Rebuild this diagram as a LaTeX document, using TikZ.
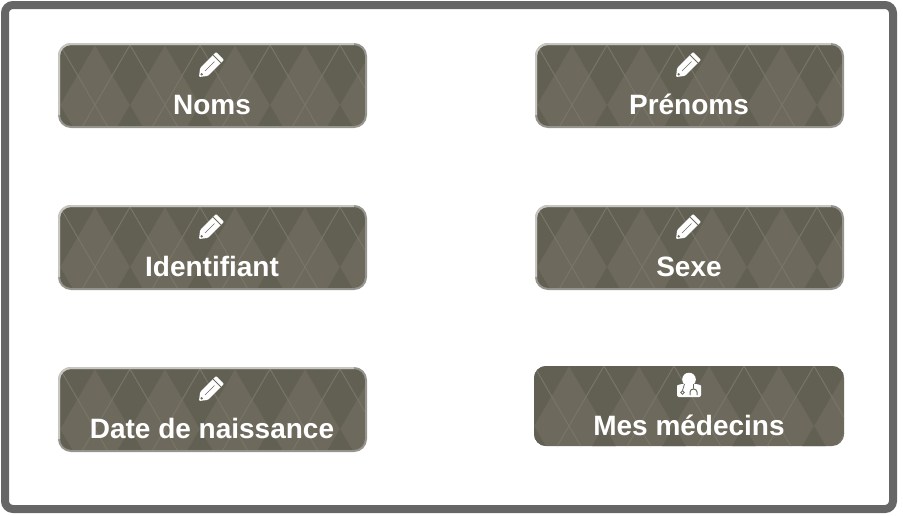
\documentclass[tikz,border=0pt]{standalone}
\usepackage{fontspec}
\setmainfont{Liberation Sans}
\definecolor{argylebase}{HTML}{6D695C}
\colorlet{argyledark}{argylebase!90!black}
\colorlet{argyleline}{argylebase!92!white}
\definecolor{framegray}{HTML}{666666}
\definecolor{edgedark}{HTML}{96948E}
\definecolor{edgelight}{HTML}{C8C6C0}
\tikzset{
    fieldbox/.style={fill=argylebase, rounded corners=12pt, inner sep=0pt, outer sep=0pt, minimum width=307pt, minimum height=83pt},
    doctorbox/.style={fieldbox, minimum width=310pt, minimum height=80pt},
    fieldlabel/.style={anchor=base, text=white, font=\fontsize{28}{28}\selectfont\bfseries},
    pencilicon/.pic={
        \fill[white, rounded corners=1pt] (-12.5,12.5) -- (-11.4,3.6) -- (4.7,-12.5) -- (12.5,-4.7) -- (-3.6,11.4) -- cycle;
        \draw[argylebase, line width=1pt] (1.6,-9.4) -- (9.4,-1.6);
        \draw[argylebase, line width=.5pt] (-6.5,6.5) -- (3,-3);
        \fill[argylebase] (-9.8,9.8) circle (1.3pt);
    },
    doctoricon/.pic={
        \fill[white] (0,-5.5) circle (6.8pt);
        \fill[white, rounded corners=2pt] (-12,12) -- (-12,3) .. controls (-12,0) and (-8,-1) .. (-5,-1) -- (5,-1) .. controls (8,-1) and (12,0) .. (12,3) -- (12,12) -- cycle;
        \draw[argylebase, line width=.8pt] (-4.5,-1) -- (-6.5,5.5);
        \draw[argylebase, line width=.8pt] (-6.5,7.5) circle (1.8pt);
        \draw[argylebase, line width=1pt] (1,10) -- (1,7) .. controls (1,3) and (8,3) .. (8,7) -- (8,10);
        \draw[argylebase, line width=1pt] (4.5,-1) -- (4.5,4);
    }
}
% diamonds and thin lines inside a box: node name, then where the tiles start
\newcommand{\argyletiles}[3]{
    \begin{scope}
        \clip[rounded corners=12pt] (#1.north west) rectangle (#1.south east);
        \begin{scope}[shift={(#2,#3)}]
            \foreach \i in {0,...,5} {
                \foreach \j in {0,1} {
                    \fill[argyledark] (70*\i,120*\j-60) -- (70*\i+35,120*\j) -- (70*\i,120*\j+60) -- (70*\i-35,120*\j) -- cycle;
                }
            }
            \foreach \i in {0,...,4} {
                \foreach \j in {0,1} {
                    \draw[argyleline, line width=1pt] (70*\i+70,120*\j) -- (70*\i,120*\j+120);
                    \draw[argyleline, line width=1pt] (70*\i,120*\j) -- (70*\i+70,120*\j+120);
                }
            }
        \end{scope}
    \end{scope}
}
% border of a box: darker all round, lighter along the top and the left
\newcommand{\fieldedge}[1]{
    \draw[edgedark, line width=2pt, rounded corners=12pt] (#1.north west) rectangle (#1.south east);
    \draw[edgelight, line width=2pt, rounded corners=12pt] ([yshift=12pt]#1.south west) -- (#1.north west) -- ([xshift=-12pt]#1.north east);
}

\begin{document}
\begin{tikzpicture}[x=1pt, y=-1pt]
    \useasboundingbox (0,0) rectangle (903,515);

    % Draw Outer Frame
    \draw[framegray, line width=8pt, rounded corners=8pt] (5,5) rectangle (893,509);

    % Field Boxes
    % -- left column
    \node[fieldbox] (noms) at (212.5,85.5) {};
    \node[fieldbox] (identifiant) at (212.5,247.5) {};
    \node[fieldbox] (naissance) at (212.5,409.5) {};

    % -- right column
    \node[fieldbox] (prenoms) at (689.5,85.5) {};
    \node[fieldbox] (sexe) at (689.5,247.5) {};
    \node[doctorbox] (medecins) at (689,406) {};

    % Box Patterns
    \argyletiles{noms}{60}{45}
    \argyletiles{identifiant}{60}{207}
    \argyletiles{naissance}{60}{369}
    \argyletiles{prenoms}{537}{45}
    \argyletiles{sexe}{537}{207}
    \argyletiles{medecins}{534}{366}

    % Box Borders
    \fieldedge{noms}
    \fieldedge{identifiant}
    \fieldedge{naissance}
    \fieldedge{prenoms}
    \fieldedge{sexe}

    % Icons
    \pic at (211.5,64.5) {pencilicon};
    \pic at (211.5,226.5) {pencilicon};
    \pic at (211.5,388.5) {pencilicon};
    \pic at (688.5,64.5) {pencilicon};
    \pic at (688.5,226.5) {pencilicon};
    \pic at (689,385) {doctoricon};

    % Box Labels
    \node[fieldlabel] (lblnoms) at (212,114) {Noms};
    \node[fieldlabel] (lblidentifiant) at (212,276) {Identifiant};
    \node[fieldlabel] (lblnaissance) at (212,438) {Date de naissance};
    \node[fieldlabel] (lblprenoms) at (689,114) {Prénoms};
    \node[fieldlabel] (lblsexe) at (689,276) {Sexe};
    \node[fieldlabel] (lblmedecins) at (689,435) {Mes médecins};
\end{tikzpicture}
\end{document}
